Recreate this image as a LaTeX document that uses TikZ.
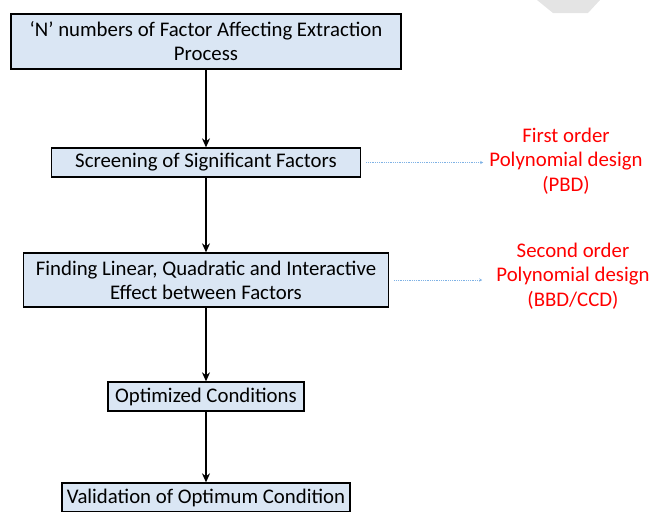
\documentclass[tikz,border=0pt]{standalone}
\usepackage{fontspec}
\setmainfont{Carlito}
\usetikzlibrary{arrows.meta,positioning}
\definecolor{boxblue}{HTML}{DAE6F4}
\definecolor{linkblue}{HTML}{7FB2E5}
\definecolor{wmgray}{HTML}{E4E4E4}
\begin{document}
\begin{tikzpicture}[x=1pt,y=-1pt,
    stepbox/.style={draw=black,fill=boxblue,line width=1.3pt,align=center,
      inner sep=0pt,font=\fontsize{20.8}{24}\selectfont},
    arr/.style={-{Stealth[length=9pt,width=8pt]},line width=1.2pt},
    dotlink/.style={linkblue,densely dotted,line width=0.8pt,
      -{Stealth[length=3pt,width=3pt]}},
    redtxt/.style={red,align=center,inner sep=0pt,font=\fontsize{20.8}{24.5}\selectfont}]
  \useasboundingbox (0,0) rectangle (649,512);
  \clip (0,0) rectangle (649,512);
  % watermark piece
  \fill[wmgray] (537,0) -- (600,0) -- (588,13) -- (553,13) -- cycle;
  % the steps
  \node[stepbox,minimum width=390pt,minimum height=55pt] (factors) at (206,41.5)
    {`N' numbers of Factor Affecting Extraction\\Process};
  \node[stepbox,minimum width=309pt,minimum height=29pt] (screen) at (206,162.5)
    {Screening of Significant Factors};
  \node[stepbox,minimum width=365pt,minimum height=54pt] (effect) at (206,280)
    {Finding Linear, Quadratic and Interactive\\Effect between Factors};
  \node[stepbox,minimum width=196pt,minimum height=29pt] (optim) at (206,396.5)
    {Optimized Conditions};
  \node[stepbox,minimum width=288pt,minimum height=29pt] (valid) at (206,497.5)
    {Validation of Optimum Condition};
  % arrows down
  \draw[arr] (factors) -- (screen);
  \draw[arr] (screen) -- (effect);
  \draw[arr] (effect) -- (optim);
  \draw[arr] (optim) -- (valid);
  % designs
  \node[redtxt] (pbd) at (566,161) {First order\\Polynomial design\\(PBD)};
  \node[redtxt] (bbd) at (573,276) {Second order\\Polynomial design\\(BBD/CCD)};
  \draw[dotlink,shorten <=5pt,shorten >=6pt] (screen.east) -- (screen.east -| pbd.west);
  \draw[dotlink,shorten <=5pt,shorten >=14pt] (effect.east) -- (effect.east -| bbd.west);
\end{tikzpicture}
\end{document}
